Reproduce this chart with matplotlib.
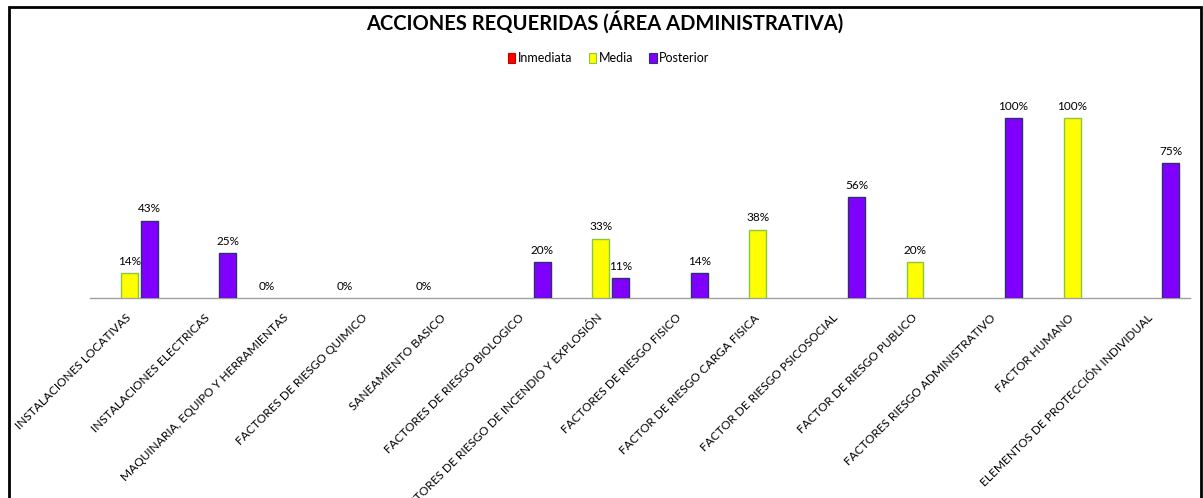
import numpy as np
import matplotlib
matplotlib.use("Agg")
import matplotlib.pyplot as plt
from matplotlib.patches import Patch, Rectangle

plt.rcParams['font.family'] = ['Lato', 'DejaVu Sans']

# data (fractions); None = no bar in that series
categorias = [
    "INSTALACIONES LOCATIVAS",
    "INSTALACIONES ELECTRICAS",
    "MAQUINARIA, EQUIPO Y HERRAMIENTAS",
    "FACTORES DE RIESGO QUIMICO",
    "SANEAMIENTO BASICO",
    "FACTORES DE RIESGO BIOLOGICO",
    "FACTORES DE RIESGO DE INCENDIO Y EXPLOSIÓN",
    "FACTORES DE RIESGO FISICO",
    "FACTOR DE RIESGO CARGA FISICA",
    "FACTOR DE RIESGO PSICOSOCIAL",
    "FACTOR DE RIESGO PUBLICO",
    "FACTORES RIESGO ADMINISTRATIVO",
    "FACTOR HUMANO",
    "ELEMENTOS DE PROTECCIÓN INDIVIDUAL",
]
inmediata = [None, None, 0.0, 0.0, 0.0, None, None, None, None, None, None, None, None, None]
media = [0.14, None, None, None, None, None, 0.33, None, 0.38, None, 0.20, None, 1.00, None]
posterior = [0.43, 0.25, None, None, None, 0.20, 0.11, 0.14, None, 0.56, None, 1.00, None, 0.75]

series_names = ["Inmediata", "Media", "Posterior"]
colores = ["#FF0000", "#FFFF00", "#8000FF"]
bordes = ["#C00000", "#8CC63F", "#30306E"]

fig = plt.figure(figsize=(12.03, 4.98), dpi=100)
ax = fig.add_axes([0.0748, 0.4016, 0.9144, 0.4337])

x = np.arange(len(categorias))
ancho = 0.216
paso = 0.254

for i, (serie, col, borde) in enumerate(zip([inmediata, media, posterior], colores, bordes)):
    xs = [x[j] + (i - 1) * paso for j, v in enumerate(serie) if v is not None]
    vals = [v for v in serie if v is not None]
    ax.bar(xs, vals, width=ancho, color=col, edgecolor=borde,
           linewidth=0.0 if i == 0 else 1.0, zorder=3)
    for xx, v in zip(xs, vals):
        ax.annotate("%d%%" % round(v * 100), (xx, v), xytext=(0, 4.5),
                    textcoords="offset points", ha="center", va="bottom",
                    fontsize=8.5, color="black", zorder=4)

ax.set_xlim(-0.5, len(categorias) - 0.5)
ax.set_ylim(0, 1.2)
ax.set_yticks([])
for s in ["top", "left", "right"]:
    ax.spines[s].set_visible(False)
ax.spines["bottom"].set_color("#A0A0A0")
ax.spines["bottom"].set_linewidth(1.0)
ax.set_xticks(x)
ax.set_xticklabels(categorias, rotation=45, ha="right", va="center",
                   rotation_mode="anchor", fontsize=8.6)
ax.tick_params(axis="x", length=0, pad=13)

fig.text(0.503, 0.955, "ACCIONES REQUERIDAS (ÁREA ADMINISTRATIVA)",
         ha="center", va="center", fontsize=14.5, fontweight="bold")

handles = [Patch(facecolor=c, edgecolor=b, linewidth=0.8, label=n)
           for c, b, n in zip(colores, bordes, series_names)]
fig.legend(handles=handles, loc="center", bbox_to_anchor=(0.506, 0.8835),
           ncol=3, frameon=False, fontsize=9, handlelength=0.6,
           handleheight=0.9, handletextpad=0.2, columnspacing=1.3)

# black frame around the chart (bottom edge is cut off in the original)
marco = Rectangle((9 / 1203, -0.1), 1192 / 1203, 1.1 - 7 / 498, transform=fig.transFigure,
                  fill=False, edgecolor="black", linewidth=2.0, clip_on=False)
fig.add_artist(marco)

fig.savefig("out.png", dpi=100)
